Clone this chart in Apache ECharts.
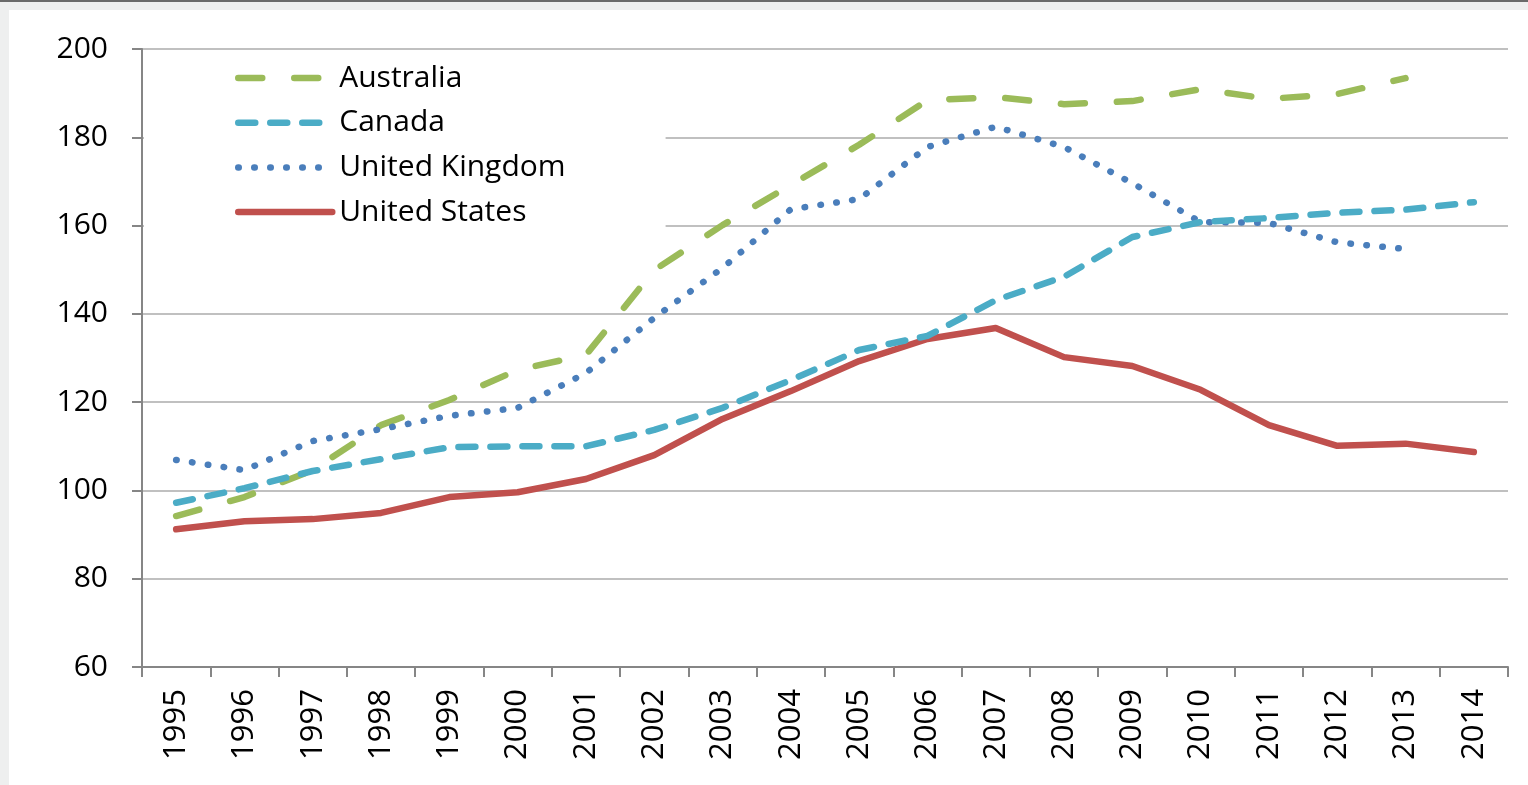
<!DOCTYPE html>
<html>
<head>
<meta charset="utf-8">
<script src="https://cdn.jsdelivr.net/npm/echarts@6/dist/echarts.min.js"></script>
<style>
  html, body { margin: 0; padding: 0; background: #eeefef; }
  #topline { position: absolute; left: 0; top: 0; width: 1528px; height: 2px; background: #6a6a6a; }
  #panel { position: absolute; left: 9px; top: 10px; width: 1519px; height: 775px; background: #fff; }
  #chart_main { position: absolute; left: 0; top: 0; width: 1528px; height: 785px; }
</style>
</head>
<body>
<div id="topline"></div>
<div id="panel"></div>
<div id="chart_main"></div>
<script>
var years = ['1995', '1996', '1997', '1998', '1999', '2000', '2001', '2002', '2003', '2004',
  '2005', '2006', '2007', '2008', '2009', '2010', '2011', '2012', '2013', '2014']
var australia = [94.2, 98.5, 104.6, 114.8, 120.5, 127.3, 130.7, 149.9, 160.1, 169.2,
  178.3, 188.4, 189.1, 187.5, 188.2, 190.9, 188.7, 189.8, 193.4, null]
var canada = [97.2, 100.5, 104.4, 107.1, 109.8, 110, 110, 113.7, 118.7, 125,
  131.8, 135, 143.1, 148.4, 157.4, 160.8, 161.7, 162.9, 163.6, 165.3]
var unitedKingdom = [106.9, 104.6, 111.2, 113.9, 116.9, 118.7, 126.6, 139.1, 150.4, 163.7,
  166, 177.8, 182.4, 177.8, 169.6, 160.8, 160.6, 156.2, 154.7, null]
var unitedStates = [91.2, 93.0, 93.5, 94.9, 98.5, 99.6, 102.6, 108, 116.2, 122.5,
  129.3, 134.3, 136.8, 130.2, 128.2, 122.8, 114.8, 110.1, 110.6, 108.7]
var yTicks = { min: 60, max: 200, step: 20 }

var fontFamily = '"Open Sans", "Noto Sans", sans-serif'
var chartMain = echarts.init(document.getElementById('chart_main'))

function lineSeries (name, data, color, dash) {
  return {
    name: name,
    type: 'line',
    data: data,
    symbol: 'none',
    showSymbol: false,
    connectNulls: false,
    lineStyle: {
      color: color,
      width: 6.5,
      type: dash,
      cap: 'round',
      join: 'round'
    },
    itemStyle: { color: color }
  }
}

chartMain.setOption({
  animation: false,
  backgroundColor: 'transparent',
  textStyle: { fontFamily: fontFamily },
  grid: {
    left: 142,
    right: 20,
    top: 49,
    bottom: 118
  },
  legend: {
    orient: 'vertical',
    left: 144,
    top: 55,
    data: ['Australia', 'Canada', 'United Kingdom', 'United States'],
    backgroundColor: '#ffffff',
    padding: [8, 100, 8, 91],
    itemWidth: 94,
    itemHeight: 14,
    itemGap: 14.7,
    z: 5,
    itemStyle: { opacity: 0 },
    lineStyle: { width: 6.5, cap: 'round' },
    textStyle: {
      fontFamily: fontFamily,
      fontSize: 30,
      color: '#000',
      lineHeight: 30,
      padding: [0, 0, 0, 2]
    }
  },
  xAxis: {
    type: 'category',
    data: years,
    boundaryGap: true,
    axisLine: { lineStyle: { color: '#868686', width: 2 } },
    axisTick: { show: true, length: 10, lineStyle: { color: '#868686', width: 2 } },
    axisLabel: {
      rotate: 90,
      interval: 0,
      margin: 22,
      fontSize: 31,
      color: '#000',
      fontFamily: fontFamily
    },
    splitLine: { show: false }
  },
  yAxis: {
    type: 'value',
    min: yTicks.min,
    max: yTicks.max,
    interval: yTicks.step,
    axisLine: { show: true, lineStyle: { color: '#868686', width: 2 } },
    axisTick: { show: true, length: 10, lineStyle: { color: '#868686', width: 2 } },
    axisLabel: {
      margin: 34,
      fontSize: 30,
      color: '#000',
      fontFamily: fontFamily
    },
    splitLine: { lineStyle: { color: '#c0c0c0', width: 2 } }
  },
  series: [
    lineSeries('Australia', australia, '#9bbb59', [24, 32]),
    lineSeries('United States', unitedStates, '#c0504d', 'solid'),
    lineSeries('United Kingdom', unitedKingdom, '#4a7ebb', [0.5, 15.5]),
    lineSeries('Canada', canada, '#4bacc6', [17, 15])
  ]
})
</script>
</body>
</html>
